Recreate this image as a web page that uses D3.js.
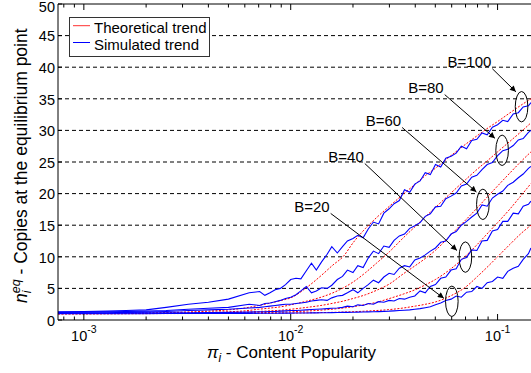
<!DOCTYPE html>
<html>
<head>
<meta charset="utf-8">
<script src="https://cdn.jsdelivr.net/npm/d3@7"></script>
<style>
  body { margin: 0; background: #fff; }
  svg { font-family: "Liberation Sans", Arial, Helvetica, sans-serif; }
</style>
</head>
<body>
<svg id="chart" width="531" height="373"></svg>
<script>
// simulated points (content popularity -> copies at equilibrium)
const simPopularity = [0.00075, 0.001, 0.0013, 0.0016, 0.002, 0.0025, 0.0032, 0.004, 0.005, 0.0063,
  0.00708, 0.0075, 0.00794, 0.00841, 0.00891, 0.00944,
  0.01, 0.0106, 0.0112, 0.0119, 0.0126, 0.0133, 0.0141, 0.015, 0.0158, 0.0168,
  0.0178, 0.0188, 0.02, 0.0211, 0.0224, 0.0237, 0.0251, 0.0266, 0.0282, 0.0299,
  0.0316, 0.0335, 0.0355, 0.0376, 0.0398, 0.0422, 0.0447, 0.0473, 0.0501, 0.0531,
  0.0562, 0.0596, 0.0631, 0.0668, 0.0708, 0.075, 0.0794, 0.0841, 0.0891, 0.0944,
  0.1, 0.106, 0.112, 0.119, 0.126, 0.133, 0.141, 0.145];

const sim100 = [1.3, 1.35, 1.4, 1.5, 1.6, 2.0, 2.5, 2.8, 3.3, 4.3,
  4.5, 3.9, 4.3, 4.8, 5.0, 5.6,
  6.4, 6.6, 6.5, 7.8, 9.0, 7.9, 9.2, 10.4, 11.6, 10.6,
  11.6, 12.5, 12.9, 13.4, 13.0, 14.4, 15.5, 15.2, 16.9, 17.6,
  18.4, 18.9, 20.6, 20.2, 21.5, 22.0, 23.3, 23.0, 24.6, 24.2,
  25.6, 25.9, 26.4, 27.5, 27.1, 28.4, 28.6, 29.6, 29.3, 30.5,
  30.9, 31.6, 31.4, 32.6, 32.8, 33.7, 33.9, 34.4];
const sim80 = [1.2, 1.25, 1.3, 1.35, 1.4, 1.5, 1.7, 1.85, 2.0, 2.5,
  2.3, 2.6, 2.7, 2.9, 3.1, 3.4,
  3.6, 4.0, 4.6, 5.3, 4.3, 4.6, 5.1, 5.0, 5.5, 6.4,
  6.9, 7.9, 7.5, 8.6, 8.3, 9.8, 10.9, 10.5, 11.7, 11.5,
  12.6, 13.3, 13.6, 14.5, 14.9, 15.4, 16.4, 16.8, 17.9, 18.0,
  19.2, 19.6, 20.1, 21.2, 21.5, 22.6, 22.9, 23.8, 24.6, 24.9,
  26.0, 26.8, 27.0, 27.6, 28.5, 28.7, 29.7, 30.0];
const sim60 = [1.1, 1.12, 1.15, 1.2, 1.25, 1.35, 1.5, 1.6, 1.7, 1.9,
  2.0, 2.1, 2.2, 2.3, 2.4, 2.5,
  2.5, 2.6, 2.7, 2.8, 3.0, 3.1, 3.2, 3.1, 3.5, 3.8,
  3.9, 4.3, 4.8, 4.3, 5.0, 5.6, 6.3, 5.9, 6.8, 7.4,
  7.2, 8.2, 8.6, 8.4, 9.5, 9.8, 10.3, 10.9, 11.4, 12.3,
  12.5, 13.6, 14.0, 15.0, 15.6, 16.3, 16.9, 18.2, 18.0, 19.3,
  19.9, 20.4, 21.3, 21.8, 22.5, 23.1, 24.0, 24.3];
const sim40 = [1.05, 1.06, 1.08, 1.1, 1.1, 1.12, 1.15, 1.18, 1.2, 1.25,
  1.3, 1.3, 1.35, 1.35, 1.4, 1.45,
  1.5, 1.5, 1.55, 1.6, 1.65, 1.7, 1.75, 1.8, 1.85, 1.9,
  2.0, 2.2, 2.1, 2.4, 2.3, 2.6, 2.5, 2.9, 2.8, 3.1,
  3.0, 3.4, 3.3, 3.6, 3.8, 4.6, 4.3, 5.3, 5.6, 6.6,
  6.8, 7.9, 8.1, 9.6, 9.9, 11.1, 11.0, 12.5, 12.6, 14.1,
  14.3, 15.6, 15.6, 16.9, 16.8, 18.0, 18.3, 18.8];
const sim20 = [1.0, 1.0, 1.0, 1.0, 1.0, 1.02, 1.02, 1.03, 1.04, 1.05,
  1.06, 1.06, 1.07, 1.07, 1.08, 1.08,
  1.09, 1.1, 1.1, 1.1, 1.12, 1.13, 1.14, 1.15, 1.16, 1.18,
  1.2, 1.21, 1.22, 1.24, 1.26, 1.28, 1.3, 1.33, 1.37, 1.4,
  1.45, 1.5, 1.55, 1.6, 1.7, 1.8, 1.95, 2.1, 2.4, 2.7,
  3.1, 3.3, 3.8, 3.6, 4.4, 4.5, 5.3, 5.0, 5.9, 6.1,
  6.8, 6.6, 7.7, 8.2, 8.5, 9.6, 10.5, 11.4];

// theoretical curves
const theoryPopularity = [0.00075, 0.001, 0.0015, 0.002, 0.003, 0.004, 0.005, 0.006, 0.007, 0.008,
  0.009, 0.01, 0.012, 0.014, 0.016, 0.018, 0.02, 0.023, 0.026, 0.03,
  0.035, 0.04, 0.045, 0.05, 0.06, 0.07, 0.08, 0.09, 0.1, 0.115, 0.13, 0.145];
const theory100 = [1.0, 1.02, 1.06, 1.1, 1.25, 1.4, 1.6, 1.9, 2.3, 2.7,
  3.1, 3.5, 5.2, 7.0, 8.7, 10.1, 12.2, 14.5, 16.2, 18.0,
  19.9, 21.5, 22.9, 24.0, 26.1, 27.8, 29.2, 30.4, 31.4, 32.8, 34.0, 35.0];
const theory80 = [1.0, 1.01, 1.04, 1.07, 1.15, 1.22, 1.3, 1.45, 1.7, 1.9,
  2.1, 2.4, 3.0, 3.6, 4.3, 5.1, 6.0, 7.5, 9.0, 10.8,
  13.0, 14.8, 16.4, 17.8, 20.2, 22.2, 23.9, 25.3, 26.6, 28.3, 29.8, 31.2];
const theory60 = [1.0, 1.0, 1.02, 1.04, 1.08, 1.12, 1.18, 1.25, 1.35, 1.45,
  1.55, 1.7, 2.0, 2.3, 2.65, 3.0, 3.4, 4.0, 4.7, 5.7,
  7.3, 8.6, 9.8, 11.0, 13.6, 15.8, 17.8, 19.6, 21.2, 23.3, 25.1, 26.6];
const theory40 = [1.0, 1.0, 1.01, 1.02, 1.04, 1.06, 1.09, 1.12, 1.16, 1.2,
  1.25, 1.3, 1.42, 1.56, 1.72, 1.9, 2.1, 2.45, 2.8, 3.4,
  4.1, 4.8, 5.6, 6.4, 8.2, 10.1, 12.0, 13.8, 15.4, 17.6, 19.7, 21.6];
const theory20 = [1.0, 1.0, 1.0, 1.01, 1.02, 1.03, 1.04, 1.05, 1.06, 1.07,
  1.08, 1.1, 1.13, 1.17, 1.21, 1.26, 1.31, 1.4, 1.5, 1.65,
  1.9, 2.2, 2.5, 2.85, 3.9, 5.2, 6.9, 8.5, 10.0, 12.0, 13.7, 15.0];

const yTicks = [0, 5, 10, 15, 20, 25, 30, 35, 40, 45, 50];
const xMajorTicks = [0.001, 0.01, 0.1];
const xTickExponents = ['-3', '-2', '-1'];

// B annotations: label, label anchor, arrow tip, circled spot
const annoLabels = ['B=20', 'B=40', 'B=60', 'B=80', 'B=100'];
const annoTextPi = [0.0104, 0.0152, 0.02304, 0.037, 0.0573];
const annoTextVal = [17.1, 25.0, 30.7, 35.9, 40.0];
const annoTipPi = [0.055, 0.0636, 0.079, 0.0971, 0.1226];
const annoTipVal = [3.43, 11.0, 20.25, 28.75, 36.1];
const annoRingPi = [0.0601, 0.0699, 0.0849, 0.1052, 0.1306];
const annoRingVal = [2.96, 9.95, 18.3, 26.85, 33.75];

const svg = d3.select('#chart');
const mLeft = 58, mTop = 4, mBottom = 320, mRight = 531;

const x = d3.scaleLog().domain([0.00075, 0.15]).range([mLeft, 534]);
const y = d3.scaleLinear().domain([0, 50]).range([mBottom, mTop]);

const defs = svg.append('defs');
defs.append('clipPath').attr('id', 'plotClip')
  .append('rect').attr('x', mLeft).attr('y', mTop).attr('width', mRight - mLeft).attr('height', mBottom - mTop);

const marker = defs.append('marker')
  .attr('id', 'arrow').attr('viewBox', '0 0 10 10')
  .attr('refX', 10).attr('refY', 5)
  .attr('markerUnits', 'userSpaceOnUse')
  .attr('markerWidth', 8).attr('markerHeight', 6)
  .attr('orient', 'auto');
marker.append('path').attr('d', 'M0,0 L10,5 L0,10 z').attr('fill', '#000');

// dashed grid
svg.append('g').selectAll('line')
  .data(yTicks.filter(v => v > 0 && v < 50))
  .enter().append('line')
  .attr('x1', mLeft).attr('x2', mRight)
  .attr('y1', d => y(d)).attr('y2', d => y(d))
  .attr('stroke', '#000').attr('stroke-width', 1)
  .attr('stroke-dasharray', '4,3');

const plot = svg.append('g').attr('clip-path', 'url(#plotClip)');

const line = d3.line().x(d => x(d[0])).y(d => y(d[1]));
const smooth = d3.line().x(d => x(d[0])).y(d => y(d[1])).curve(d3.curveMonotoneX);

const theorySeries = [theory20, theory40, theory60, theory80, theory100];
const simSeries = [sim20, sim40, sim60, sim80, sim100];

theorySeries.forEach(vals => {
  plot.append('path')
    .datum(theoryPopularity.map((p, i) => [p, vals[i]]))
    .attr('d', smooth)
    .attr('fill', 'none')
    .attr('stroke', '#ff0000')
    .attr('stroke-width', 1)
    .attr('stroke-dasharray', '2,1.5');
});

simSeries.forEach(vals => {
  plot.append('path')
    .datum(simPopularity.map((p, i) => [p, vals[i]]))
    .attr('d', line)
    .attr('fill', 'none')
    .attr('stroke', '#0000ff')
    .attr('stroke-width', 1.1);
});

// axes box
const axes = svg.append('g').attr('stroke', '#000').attr('stroke-width', 1);
axes.append('line').attr('x1', mLeft).attr('x2', mLeft).attr('y1', mTop).attr('y2', mBottom);
axes.append('line').attr('x1', mLeft).attr('x2', mRight).attr('y1', mBottom).attr('y2', mBottom);
axes.append('line').attr('x1', mLeft).attr('x2', mRight).attr('y1', mTop).attr('y2', mTop);

// x ticks (log decades, inward on top and bottom)
const xTicks = x.ticks().filter(v => x(v) >= mLeft && x(v) <= mRight);
xTicks.forEach(v => {
  const major = Math.abs(Math.log10(v) - Math.round(Math.log10(v))) < 1e-6;
  const len = major ? 6 : 3.5;
  axes.append('line').attr('x1', x(v)).attr('x2', x(v)).attr('y1', mBottom).attr('y2', mBottom - len);
  axes.append('line').attr('x1', x(v)).attr('x2', x(v)).attr('y1', mTop).attr('y2', mTop + len);
});

yTicks.forEach(v => {
  axes.append('line').attr('x1', mLeft).attr('x2', mLeft + 4).attr('y1', y(v)).attr('y2', y(v));
});

// tick labels (top one nudged so it stays inside the picture)
svg.append('g').selectAll('text')
  .data(yTicks)
  .enter().append('text')
  .attr('x', mLeft - 3).attr('y', d => Math.max(y(d), 6.5)).attr('dy', '0.4em')
  .attr('text-anchor', 'end').attr('font-size', 14.5)
  .text(d => d);

xMajorTicks.forEach((v, i) => {
  const t = svg.append('text')
    .attr('x', x(v)).attr('y', 341)
    .attr('text-anchor', 'middle').attr('font-size', 14.5);
  t.append('tspan').text('10');
  t.append('tspan').attr('font-size', 10.5).attr('dy', -8).text(xTickExponents[i]);
});

// axis titles
const xl = svg.append('text').attr('x', 207).attr('y', 358).attr('font-size', 17);
xl.append('tspan').attr('font-style', 'italic').text('\u03c0');
xl.append('tspan').attr('font-style', 'italic').attr('font-size', 12).attr('dy', 4).text('i');
xl.append('tspan').attr('dy', -4).text(' - Content Popularity');

const yl = svg.append('text')
  .attr('transform', 'translate(27,303) rotate(-90)')
  .attr('text-anchor', 'start').attr('font-size', 17.5);
yl.append('tspan').attr('font-style', 'italic').text('n');
yl.append('tspan').attr('font-style', 'italic').attr('font-size', 12.5).attr('dy', 4).text('i');
yl.append('tspan').attr('font-style', 'italic').attr('font-size', 12.5).attr('dx', -2.8).attr('dy', -11).text('eq');
yl.append('tspan').attr('dy', 7).text(' - Copies at the equilibrium point');

// B annotations
const anno = svg.append('g');
annoLabels.forEach((lab, i) => {
  const tx = x(annoTextPi[i]), ty = y(annoTextVal[i]);
  const label = anno.append('text')
    .attr('x', tx).attr('y', ty)
    .attr('font-size', 15).text(lab);
  const w = label.node().getComputedTextLength();
  anno.append('line')
    .attr('x1', tx + w + 1).attr('y1', ty + 1.5)
    .attr('x2', x(annoTipPi[i])).attr('y2', y(annoTipVal[i]))
    .attr('stroke', '#000').attr('stroke-width', 1)
    .attr('marker-end', 'url(#arrow)');
  anno.append('ellipse')
    .attr('cx', x(annoRingPi[i])).attr('cy', y(annoRingVal[i]))
    .attr('rx', 6.3).attr('ry', 15.2)
    .attr('fill', 'none').attr('stroke', '#000').attr('stroke-width', 1);
});

// legend
const legend = svg.append('g');
legend.append('rect')
  .attr('x', 69.5).attr('y', 17.5).attr('width', 140).attr('height', 39)
  .attr('fill', '#fff').attr('stroke', '#333').attr('stroke-width', 1);
const legendItems = [
  { label: 'Theoretical trend', color: '#ff3030', ly: 25.7, ty: 33 },
  { label: 'Simulated trend', color: '#0000ff', ly: 42.5, ty: 50 }
];
legendItems.forEach(it => {
  legend.append('line')
    .attr('x1', 73).attr('x2', 90).attr('y1', it.ly).attr('y2', it.ly)
    .attr('stroke', it.color).attr('stroke-width', 1);
  legend.append('text')
    .attr('x', 94).attr('y', it.ty)
    .attr('font-size', 15).text(it.label);
});
</script>
</body>
</html>
